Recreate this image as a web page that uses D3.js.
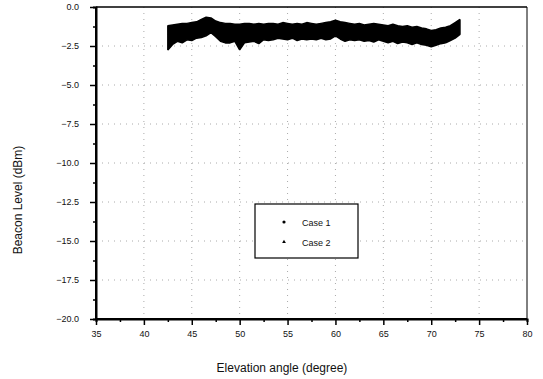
<!DOCTYPE html>
<html>
<head>
<meta charset="utf-8">
<script src="https://cdn.jsdelivr.net/npm/d3@7"></script>
<style>
  body { margin: 0; background: #fff; }
  text { font-family: "Liberation Sans", Arial, sans-serif; fill: #111; }
  .tick text { font-size: 9px; }
  .grid line { stroke: #aaa; stroke-dasharray: 1,5; }
</style>
</head>
<body>
<div id="chart"></div>
<script>
// elevation angle samples (degree) and envelope of the measured beacon level (dBm)
const angles = [42.5, 43, 43.5, 44, 44.5, 45, 45.5, 46, 46.5, 47, 47.5, 48, 48.5, 49, 49.5,
  50, 50.5, 51, 51.5, 52, 52.5, 53, 53.5, 54, 54.5, 55, 55.5, 56, 56.5, 57, 57.5,
  58, 58.5, 59, 59.5, 60, 60.5, 61, 61.5, 62, 62.5, 63, 63.5, 64, 64.5, 65, 65.5,
  66, 66.5, 67, 67.5, 68, 68.5, 69, 69.5, 70, 70.5, 71, 71.5, 72, 72.5, 73];
// Case 1 : upper edge of the band
const case1 = [-1.2, -1.15, -1.1, -1.05, -1.05, -1.0, -0.95, -0.8, -0.65, -0.7, -0.9, -1.0, -1.05, -1.05, -1.1,
  -1.1, -1.05, -1.05, -1.1, -1.05, -1.1, -1.05, -1.05, -1.1, -1.0, -1.05, -1.1, -1.05, -1.1, -1.0, -1.05,
  -1.1, -1.05, -1.0, -0.95, -0.85, -0.95, -1.0, -1.05, -1.1, -1.05, -1.15, -1.1, -1.05, -1.1, -1.15, -1.2,
  -1.1, -1.2, -1.25, -1.2, -1.3, -1.25, -1.35, -1.4, -1.5, -1.45, -1.35, -1.3, -1.2, -1.0, -0.8];
// Case 2 : lower edge of the band
const case2 = [-2.75, -2.4, -2.2, -2.3, -2.1, -2.15, -2.0, -1.95, -1.85, -1.65, -1.9, -2.2, -2.3, -2.3, -2.2,
  -2.75, -2.3, -2.25, -2.2, -2.35, -2.1, -2.15, -2.1, -2.0, -2.05, -2.1, -2.0, -2.15, -2.05, -2.1, -2.05,
  -2.1, -2.0, -2.1, -2.05, -1.85, -2.05, -2.2, -2.1, -2.15, -2.1, -2.2, -2.15, -2.25, -2.1, -2.2, -2.3,
  -2.2, -2.35, -2.25, -2.3, -2.4, -2.3, -2.4, -2.45, -2.55, -2.45, -2.35, -2.3, -2.15, -2.0, -1.75];

const xTicks = [35, 40, 45, 50, 55, 60, 65, 70, 75, 80];
const yTicks = [0, -2.5, -5, -7.5, -10, -12.5, -15, -17.5, -20];
const seriesNames = ["Case 1", "Case 2"];

const W = 543, H = 379;
const margin = { top: 7, right: 16, bottom: 60, left: 96 };
const width = W - margin.left - margin.right;
const height = H - margin.top - margin.bottom;

const svg = d3.select("#chart").append("svg")
  .attr("width", W).attr("height", H);
const chart = svg.append("g")
  .attr("transform", `translate(${margin.left},${margin.top})`);

const x = d3.scaleLinear().domain([35, 80]).range([0, width]);
const y = d3.scaleLinear().domain([-20, 0]).range([height, 0]);

// dotted grid
chart.append("g").attr("class", "grid")
  .selectAll("line").data(xTicks.slice(1, -1)).join("line")
  .attr("x1", d => x(d)).attr("x2", d => x(d))
  .attr("y1", 0).attr("y2", height);
chart.append("g").attr("class", "grid")
  .selectAll("line").data(yTicks.slice(1, -1)).join("line")
  .attr("y1", d => y(d)).attr("y2", d => y(d))
  .attr("x1", 0).attr("x2", width);

// measurement band
const rows = angles.map((a, i) => ({ a, hi: case1[i], lo: case2[i] }));
chart.append("path")
  .datum(rows)
  .attr("fill", "#000")
  .attr("stroke", "#000")
  .attr("stroke-width", 1.5)
  .attr("stroke-linejoin", "bevel")
  .attr("d", d3.area()
    .x(d => x(d.a))
    .y0(d => y(d.lo))
    .y1(d => y(d.hi)));

// frame
chart.append("line").attr("x1", 0).attr("x2", width).attr("y1", 0).attr("y2", 0)
  .attr("stroke", "#000").attr("stroke-width", 1.5);
chart.append("line").attr("x1", width).attr("x2", width).attr("y1", 0).attr("y2", height)
  .attr("stroke", "#000").attr("stroke-width", 1);

// axes
const xAxis = d3.axisBottom(x).tickValues(xTicks).tickSize(6).tickPadding(6)
  .tickFormat(d3.format("d"));
const xMinor = d3.axisBottom(x).tickValues(d3.range(37.5, 80, 5)).tickSize(3).tickFormat("");
const yAxis = d3.axisLeft(y).tickValues(yTicks).tickSize(6).tickPadding(11)
  .tickFormat(d3.format(".1f"));
const yMinor = d3.axisLeft(y).tickValues(d3.range(-18.75, 0, 2.5)).tickSize(3).tickFormat("");

const gx = chart.append("g").attr("transform", `translate(0,${height})`).call(xAxis);
chart.append("g").attr("transform", `translate(0,${height})`).call(xMinor);
const gy = chart.append("g").call(yAxis);
chart.append("g").call(yMinor);

chart.selectAll(".domain").attr("stroke-width", 2);
chart.selectAll(".tick line").attr("stroke-width", 1.5);
gx.selectAll(".domain").attr("d", `M0,0H${width}`);
gy.selectAll(".domain").attr("d", `M0,0V${height}`);

// axis titles
svg.append("text")
  .attr("x", 282).attr("y", 372)
  .attr("text-anchor", "middle")
  .style("font-size", "12px")
  .text("Elevation angle (degree)");
svg.append("text")
  .attr("transform", "translate(22,200) rotate(-90)")
  .attr("text-anchor", "middle")
  .style("font-size", "12px")
  .text("Beacon Level (dBm)");

// legend
const legend = svg.append("g").attr("transform", "translate(255,204)");
legend.append("rect")
  .attr("width", 103).attr("height", 54)
  .attr("fill", "#fff").attr("stroke", "#000").attr("stroke-width", 1.2);
const items = legend.selectAll("g.item").data(seriesNames).join("g")
  .attr("class", "item")
  .attr("transform", (d, i) => `translate(0,${18 + i * 20})`);
items.append("path")
  .attr("transform", "translate(29,0)")
  .attr("d", (d, i) => d3.symbol(i === 0 ? d3.symbolCircle : d3.symbolTriangle, i === 0 ? 8 : 6)())
  .attr("fill", "#000");
items.append("text")
  .attr("x", 47).attr("y", 3.5)
  .style("font-size", "9px")
  .text(d => d);
</script>
</body>
</html>
